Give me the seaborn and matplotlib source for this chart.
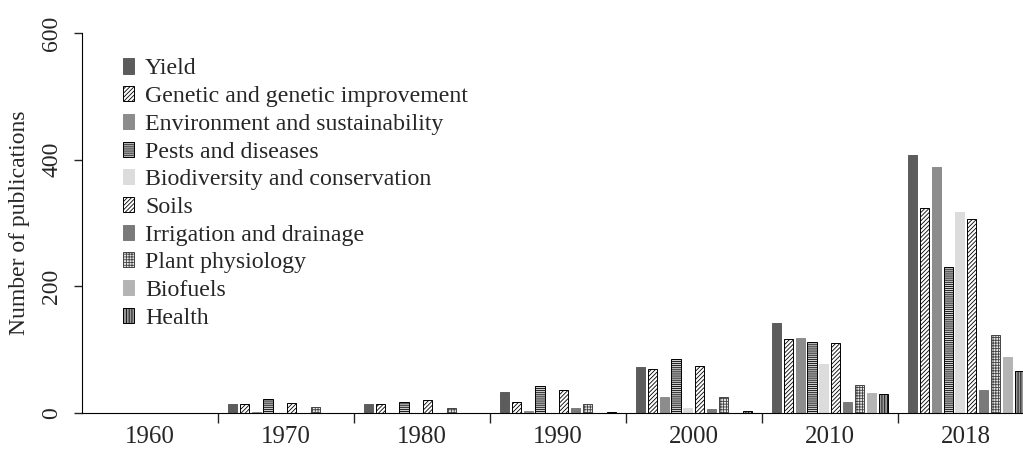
import numpy as np
import pandas as pd
import matplotlib
matplotlib.use("Agg")
import matplotlib.pyplot as plt
from matplotlib.patches import Patch
from matplotlib.ticker import FixedLocator
import seaborn as sns

# Data
decades = ["1960", "1970", "1980", "1990", "2000", "2010", "2018"]
topics = ["Yield", "Genetic and genetic improvement", "Environment and sustainability",
          "Pests and diseases", "Biodiversity and conservation", "Soils",
          "Irrigation and drainage", "Plant physiology", "Biofuels", "Health"]

yield_ = [0, 15, 14, 33, 72, 142, 408]
genetic = [0, 14, 14, 17, 70, 117, 323]
environment = [0, 1, 0, 4, 26, 119, 388]
pests = [0, 23, 18, 43, 85, 112, 230]
biodiversity = [0, 0, 0, 0, 8, 77, 317]
soils = [0, 16, 21, 36, 75, 111, 307]
irrigation = [0, 0, 0, 8, 6, 17, 36]
physiology = [0, 9, 8, 14, 25, 45, 123]
biofuels = [0, 0, 0, 0, 0, 32, 89]
health = [0, 0, 0, 2, 4, 30, 67]

series = [yield_, genetic, environment, pests, biodiversity, soils,
          irrigation, physiology, biofuels, health]

# Styles per topic: (face colour, hatch, edge colour)
styles = [
    ("#5c5c5c", None, "#5c5c5c"),
    ("white", "////////", "black"),
    ("#8c8c8c", None, "#8c8c8c"),
    ("#d0d0d0", "--------", "black"),
    ("#dcdcdc", None, "#dcdcdc"),
    ("white", "////////", "black"),
    ("#7a7a7a", None, "#7a7a7a"),
    ("#e8e8e8", "++++++", "#444444"),
    ("#b4b4b4", None, "#b4b4b4"),
    ("#9a9a9a", "||||||", "black"),
]

rows = []
for t, vals in zip(topics, series):
    for d, v in zip(decades, vals):
        rows.append({"decade": d, "topic": t, "count": v})
df = pd.DataFrame(rows)

sns.set_style("white")
plt.rcParams["font.family"] = ["Liberation Serif", "DejaVu Serif"]
plt.rcParams["hatch.linewidth"] = 0.6

fig = plt.figure(figsize=(10.23, 4.51), dpi=100)
ax = fig.add_axes([0.080, 0.084, 0.920, 0.843])

sns.barplot(data=df, x="decade", y="count", hue="topic", order=decades,
            hue_order=topics, width=0.875, gap=0.24, ax=ax, legend=False,
            errorbar=None)

for cont, (fc, hatch, ec) in zip(ax.containers, styles):
    for bar in cont:
        bar.set_facecolor(fc)
        bar.set_edgecolor(ec)
        bar.set_linewidth(0.7)
        if hatch:
            bar.set_hatch(hatch)

ax.set_ylim(0, 600)
ax.set_yticks([0, 200, 400, 600])
ax.set_xlim(-0.5, 6.42)
ax.set_xlabel("")
ax.set_ylabel("Number of publications", fontsize=17)
ax.yaxis.set_label_coords(-0.055, 0.5)

for s in ["top", "right"]:
    ax.spines[s].set_visible(False)
ax.spines["left"].set_color("black")
ax.spines["bottom"].set_color("black")

ax.tick_params(axis="y", direction="out", length=6, width=1, labelsize=17,
               left=True, pad=8)
for lab in ax.get_yticklabels():
    lab.set_rotation(90)
    lab.set_va("center")
ax.tick_params(axis="x", which="major", length=0, labelsize=18, pad=9)
ax.xaxis.set_minor_locator(FixedLocator(np.arange(0.5, 6.0, 1.0)))
ax.tick_params(axis="x", which="minor", direction="out", length=7, width=1,
               bottom=True)

handles = [Patch(facecolor=fc, edgecolor=ec, hatch=h, linewidth=0.7, label=t)
           for t, (fc, h, ec) in zip(topics, styles)]
ax.legend(handles=handles, loc="upper left", bbox_to_anchor=(0.034, 0.958),
          frameon=False, fontsize=17.2, handlelength=0.45, handleheight=0.6,
          handletextpad=0.45, labelspacing=0.28, borderaxespad=0)

fig.savefig("out.png", dpi=100)
